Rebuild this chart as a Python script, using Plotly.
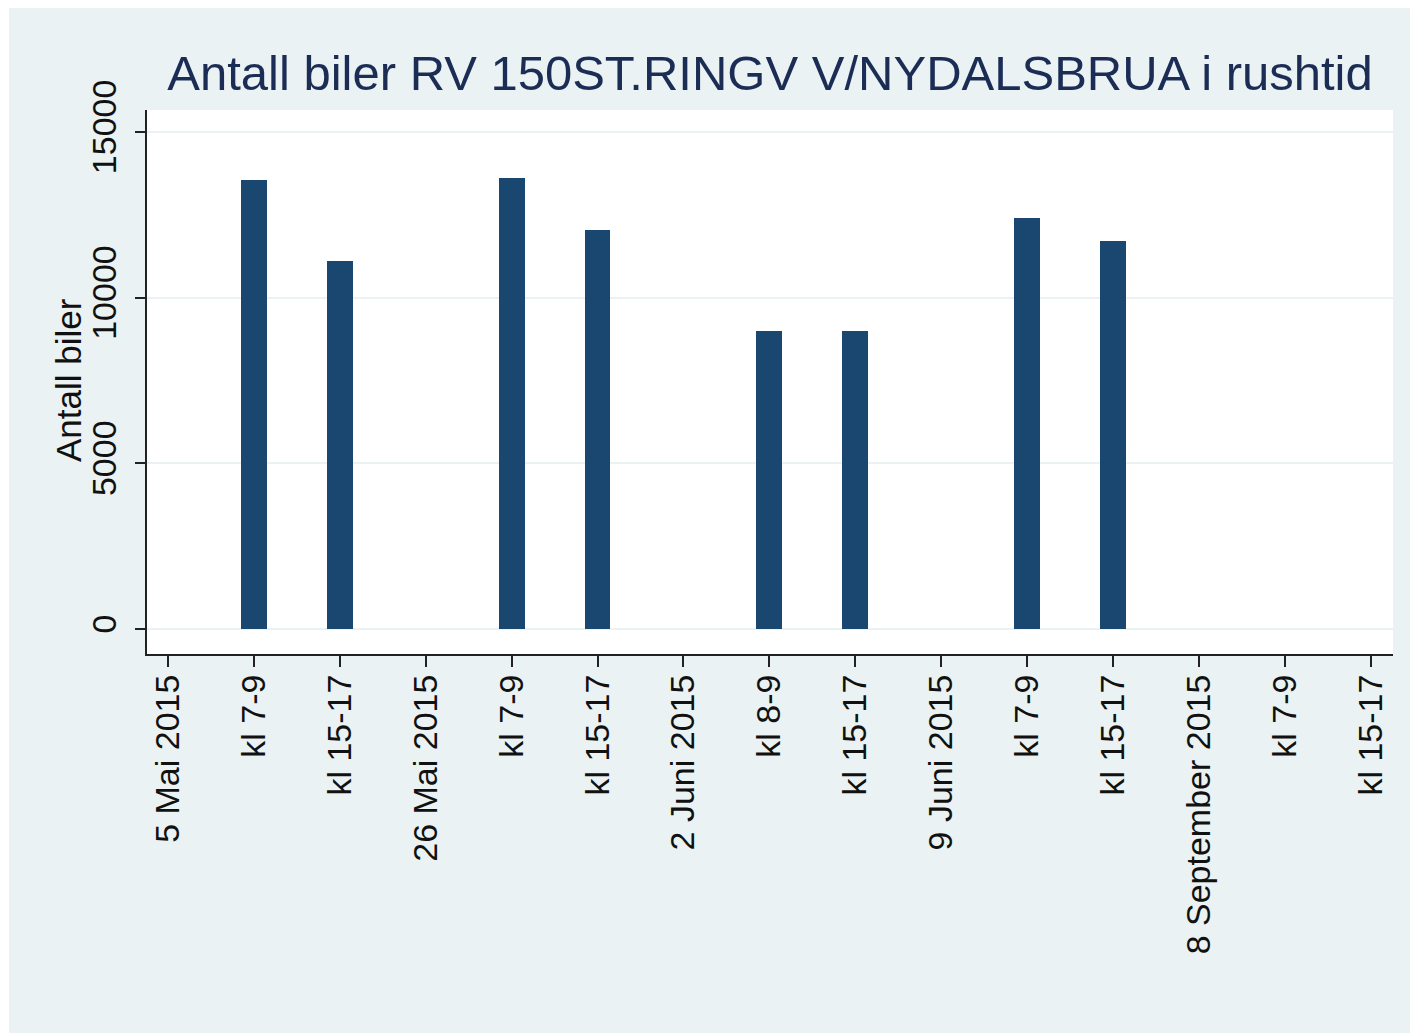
import plotly.graph_objects as go

# ---- data ----
categories = ["5 Mai 2015", "kl 7-9", "kl 15-17",
              "26 Mai 2015", "kl 7-9", "kl 15-17",
              "2 Juni 2015", "kl 8-9", "kl 15-17",
              "9 Juni 2015", "kl 7-9", "kl 15-17",
              "8 September 2015", "kl 7-9", "kl 15-17"]
antall_biler = [None, 13550, 11110,
                None, 13610, 12040,
                None, 8990, 8990,
                None, 12400, 11710,
                None, None, None]
y_ticks = [0, 5000, 10000, 15000]
title_text = "Antall biler RV 150ST.RINGV V/NYDALSBRUA i rushtid"
y_title = "Antall biler"

positions = list(range(len(categories)))

# page offset of the figure (white border around the chart)
OX, OY = 9, 8
W, H = 1401, 1025
L = 147 - OX
R = W - (1393 - OX)
T = 110 - OY
B = H - (654 - OY)
pw, ph = W - L - R, H - T - B

def px_x(page_x):
    return (page_x - OX - L) / pw

def px_y(page_y):
    return (H - B - (page_y - OY)) / ph

FONT = "Liberation Sans, Arial, sans-serif"
BG = "#EAF2F3"
BAR = "#1A476F"
INK = "#111111"

fig = go.Figure()
fig.add_trace(go.Bar(
    x=positions, y=antall_biler, width=0.30,
    marker=dict(color=BAR, line=dict(width=0)),
    showlegend=False, hoverinfo="x+y",
))

fig.update_layout(
    width=W, height=H,
    margin=dict(l=L, r=R, t=T, b=B, pad=0),
    paper_bgcolor=BG,
    plot_bgcolor="white",
    font=dict(family=FONT, color=INK),
    title=dict(text=title_text, x=0.5, xref="paper", xanchor="center",
               y=1 - (73 - OY) / H, yref="container", yanchor="middle",
               font=dict(size=49, color="#1c2d55", family=FONT)),
    bargap=0,
    annotations=[dict(text=y_title, xref="paper", yref="paper",
                      x=px_x(68), y=px_y(380), textangle=-90,
                      showarrow=False, xanchor="center", yanchor="middle",
                      font=dict(size=35, color=INK, family=FONT))],
)

fig.update_xaxes(
    range=[-0.245, 14.26],
    tickmode="array", tickvals=positions, ticktext=categories,
    tickangle=-90, tickfont=dict(size=34, family=FONT, color=INK),
    ticks="outside", ticklen=11, tickwidth=2, tickcolor="#222222",
    ticklabelstandoff=-6,
    showline=True, linecolor="#222222", linewidth=2,
    showgrid=False, zeroline=False,
)
fig.update_yaxes(
    range=[-754, 15664],
    tickmode="array", tickvals=y_ticks, ticktext=[str(v) for v in y_ticks],
    tickangle=-90, tickfont=dict(size=34, family=FONT, color=INK),
    ticks="outside", ticklen=10, tickwidth=2, tickcolor="#222222",
    ticklabelstandoff=5,
    showline=True, linecolor="#222222", linewidth=2,
    showgrid=True, gridcolor=BG, gridwidth=2, zeroline=False,
)

fig.write_html(
    "out.html",
    post_script="document.body.style.margin='8px 0 0 9px';"
                "document.body.style.overflow='hidden';",
)
